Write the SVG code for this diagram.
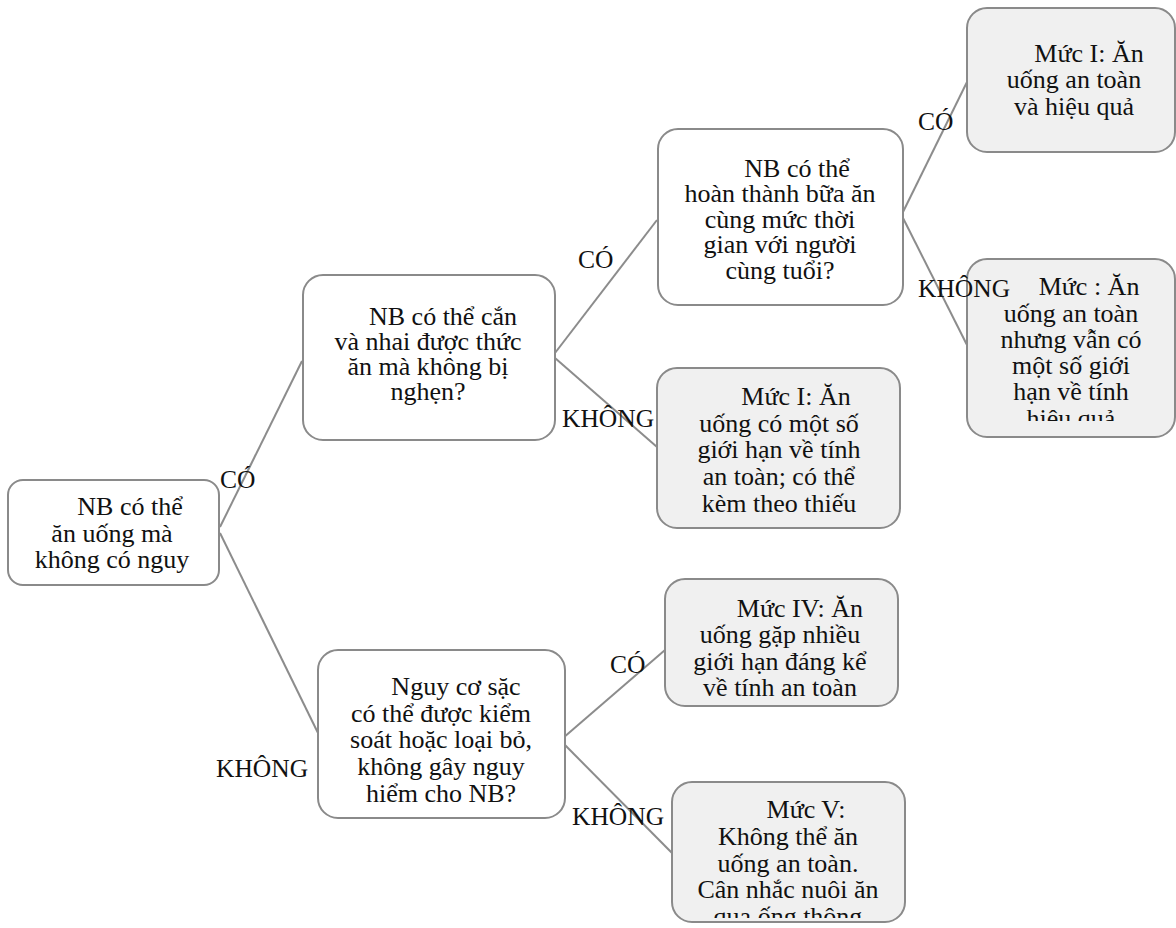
<svg xmlns="http://www.w3.org/2000/svg" width="1176" height="928" viewBox="0 0 1176 928">
<style>
.q{fill:#ffffff;stroke:#8a8a8a;stroke-width:2}
.l{fill:#f0f0f0;stroke:#8a8a8a;stroke-width:2}
.t{font-family:"Liberation Serif","Times New Roman",serif;font-size:26px;fill:#111;text-anchor:middle}
.lb{font-family:"Liberation Serif","Times New Roman",serif;font-size:25.5px;fill:#111}
.c{stroke:#8c8c8c;stroke-width:2;fill:none}
</style>
<defs>
<clipPath id="cp5"><rect x="967" y="259" width="208" height="162"/></clipPath>
<clipPath id="cp9"><rect x="672" y="782" width="233" height="136"/></clipPath>
</defs>
<rect width="1176" height="928" fill="#ffffff"/>
<g id="connectors">
<line class="c" x1="220" y1="527" x2="302" y2="361"/>
<line class="c" x1="220" y1="533" x2="318" y2="733"/>
<line class="c" x1="555" y1="353" x2="657" y2="220"/>
<line class="c" x1="555" y1="358" x2="657" y2="447"/>
<line class="c" x1="903" y1="212" x2="967" y2="82"/>
<line class="c" x1="903" y1="218" x2="967" y2="345"/>
<line class="c" x1="563" y1="738" x2="665" y2="650"/>
<line class="c" x1="563" y1="743" x2="672" y2="853"/>
</g>
<g id="n1">
<rect class="q" x="8" y="480" width="211" height="105" rx="15"/>
<text class="t"><tspan x="130" y="515">NB có thể</tspan><tspan x="112" y="542">ăn uống mà</tspan><tspan x="112" y="568">không có nguy</tspan></text>
</g>
<g id="n2">
<rect class="q" x="303" y="275" width="252" height="165" rx="20"/>
<text class="t"><tspan x="443" y="325">NB có thể cắn</tspan><tspan x="428" y="350">và nhai được thức</tspan><tspan x="428" y="375">ăn mà không bị</tspan><tspan x="428" y="400">nghẹn?</tspan></text>
</g>
<g id="n3">
<rect class="q" x="658" y="129" width="245" height="176" rx="20"/>
<text class="t"><tspan x="797" y="177">NB có thể</tspan><tspan x="780" y="202">hoàn thành bữa ăn</tspan><tspan x="780" y="228">cùng mức thời</tspan><tspan x="780" y="253">gian với người</tspan><tspan x="780" y="279">cùng tuổi?</tspan></text>
</g>
<g id="n4">
<rect class="l" x="967" y="8" width="208" height="144" rx="20"/>
<text class="t"><tspan x="1089" y="62">Mức I: Ăn</tspan><tspan x="1074" y="88">uống an toàn</tspan><tspan x="1074" y="115">và hiệu quả</tspan></text>
</g>
<g id="n5">
<rect class="l" x="967" y="259" width="208" height="178" rx="20"/>
<text class="t" clip-path="url(#cp5)"><tspan x="1089" y="295">Mức : Ăn</tspan><tspan x="1071" y="322">uống an toàn</tspan><tspan x="1071" y="348">nhưng vẫn có</tspan><tspan x="1071" y="374">một số giới</tspan><tspan x="1071" y="400">hạn về tính</tspan><tspan x="1071" y="427">hiệu quả</tspan></text>
</g>
<g id="n6">
<rect class="l" x="657" y="368" width="243" height="160" rx="20"/>
<text class="t"><tspan x="796" y="405">Mức I: Ăn</tspan><tspan x="779" y="432">uống có một số</tspan><tspan x="779" y="458">giới hạn về tính</tspan><tspan x="779" y="485">an toàn; có thể</tspan><tspan x="779" y="512">kèm theo thiếu</tspan></text>
</g>
<g id="n7">
<rect class="q" x="318" y="650" width="247" height="168" rx="20"/>
<text class="t"><tspan x="456" y="695">Nguy cơ sặc</tspan><tspan x="441" y="722">có thể được kiểm</tspan><tspan x="441" y="748">soát hoặc loại bỏ,</tspan><tspan x="441" y="775">không gây nguy</tspan><tspan x="441" y="802">hiểm cho NB?</tspan></text>
</g>
<g id="n8">
<rect class="l" x="665" y="579" width="233" height="127" rx="20"/>
<text class="t"><tspan x="800" y="617">Mức IV: Ăn</tspan><tspan x="780" y="643">uống gặp nhiều</tspan><tspan x="780" y="670">giới hạn đáng kể</tspan><tspan x="780" y="696">về tính an toàn</tspan></text>
</g>
<g id="n9">
<rect class="l" x="672" y="782" width="233" height="140" rx="20"/>
<text class="t" clip-path="url(#cp9)"><tspan x="806" y="818">Mức V:</tspan><tspan x="788" y="845">Không thể ăn</tspan><tspan x="788" y="872">uống an toàn.</tspan><tspan x="788" y="898">Cân nhắc nuôi ăn</tspan><tspan x="788" y="925">qua ống thông</tspan></text>
</g>
<g id="labels">
<text class="lb" x="220" y="488">CÓ</text>
<text class="lb" x="216" y="777">KHÔNG</text>
<text class="lb" x="578" y="268">CÓ</text>
<text class="lb" x="562" y="427">KHÔNG</text>
<text class="lb" x="918" y="130">CÓ</text>
<text class="lb" x="918" y="297">KHÔNG</text>
<text class="lb" x="610" y="673">CÓ</text>
<text class="lb" x="572" y="825">KHÔNG</text>
</g>
</svg>
